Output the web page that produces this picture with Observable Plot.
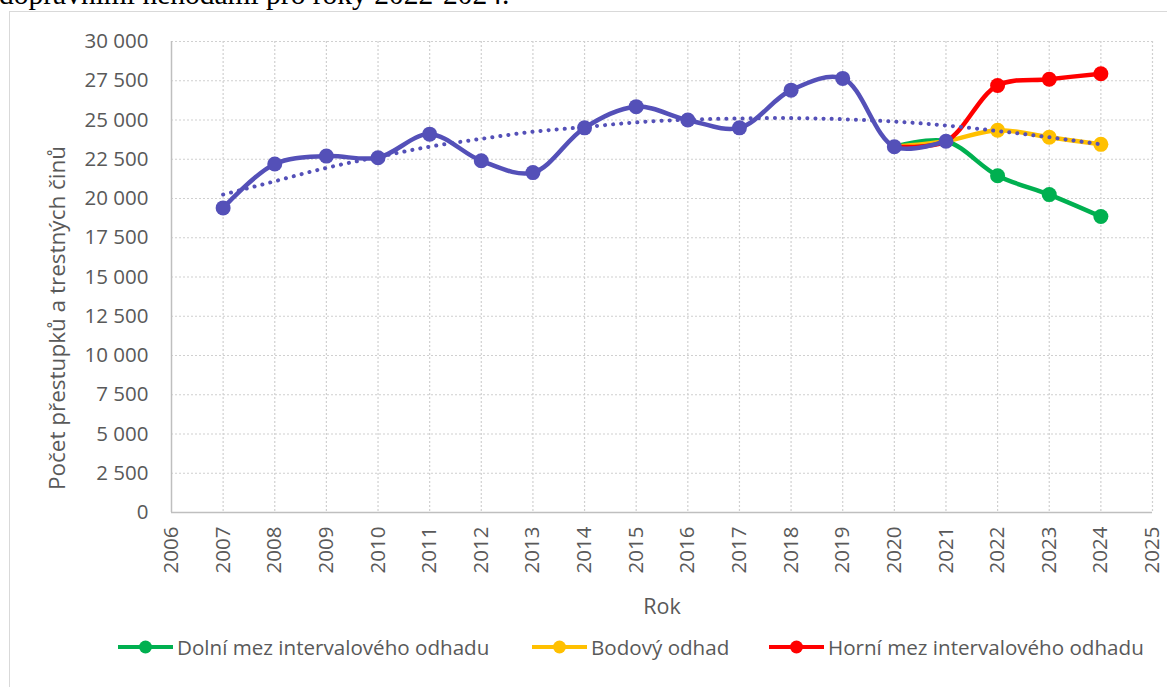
<!DOCTYPE html>
<html><head><meta charset="utf-8">
<script src="https://cdn.jsdelivr.net/npm/d3@7"></script>
<script src="https://cdn.jsdelivr.net/npm/@observablehq/plot@0.6"></script>
<style>
body{margin:0;background:#fff;width:1167px;height:687px;overflow:hidden;position:relative;font-family:"Open Sans",sans-serif}
#caption{position:absolute;left:-1px;top:-20px;font-family:"Liberation Serif",serif;font-size:29.5px;line-height:29px;color:#000;white-space:nowrap}
#frame{position:absolute;left:9px;top:11px;width:1180px;height:700px;border:1px solid #d9d9d9;box-sizing:border-box}
#chart{position:absolute;left:0;top:0}
#legend{position:absolute;top:633px;left:0;width:1167px;height:28px;font-size:20.6px;color:#595959}
.li{position:absolute;top:0;display:flex;align-items:center;height:28px;white-space:nowrap}
.li svg{margin-right:4px}
</style>
</head><body>
<div id="caption">dopravními nehodami pro roky 2022-2024.</div>
<div id="frame"></div>
<div id="chart"></div>
<div id="legend"></div>
<script>
// ---- data ----
const years = [2007,2008,2009,2010,2011,2012,2013,2014,2015,2016,2017,2018,2019,2020,2021];
const actual = [19400,22200,22700,22600,24100,22400,21650,24500,25850,25000,24500,26900,27650,23300,23650];
const forecastYears = [2020,2021,2022,2023,2024];
const lowerBound = [23300,23650,21450,20250,18850];
const pointEstimate = [23300,23650,24350,23900,23450];
const upperBound = [23300,23650,27200,27600,27950];
const trendYears = [2007,2008,2009,2010,2011,2012,2013,2014,2015,2016,2017,2018,2019,2020,2021,2022,2023,2024];
const trendValues = [20250,21100,21950,22650,23300,23800,24250,24550,24850,25020,25100,25120,25050,24900,24650,24300,23900,23450];
const xTicks = [2006,2007,2008,2009,2010,2011,2012,2013,2014,2015,2016,2017,2018,2019,2020,2021,2022,2023,2024,2025];
const yTicks = [0,2500,5000,7500,10000,12500,15000,17500,20000,22500,25000,27500,30000];
const seriesNames = ["Dolní mez intervalového odhadu","Bodový odhad","Horní mez intervalového odhadu"];
const seriesColors = ["#00b050","#ffc000","#ff0000"];
const actualColor = "#5450b8";

const toRows = (xs, vs) => xs.map((x,i)=>({x, v:vs[i]}));
const actualRows = toRows(years, actual);
const trendRows = toRows(trendYears, trendValues);
const fc = [lowerBound, pointEstimate, upperBound].map(vs => toRows(forecastYears, vs));

const fmt = d => d3.format(",")(d).replace(/,/g, " ");
const curve = "catmull-rom";

const marks = [
  Plot.gridY(yTicks.filter(d=>d>0), {stroke:"#d0d0d0", strokeOpacity:1, strokeDasharray:"2,2", strokeWidth:1.2}),
  Plot.gridX(xTicks.filter(d=>d>2006), {stroke:"#d0d0d0", strokeOpacity:1, strokeDasharray:"2,2", strokeWidth:1.2}),
  Plot.ruleY([0], {stroke:"#bfbfbf", strokeWidth:1.5}),
  Plot.ruleX([2006], {stroke:"#bfbfbf", strokeWidth:1.5}),
  Plot.axisY({ticks:yTicks, tickFormat:fmt, tickSize:0, tickPadding:23, fontSize:20.5, fill:"#595959", label:null}),
  Plot.axisX({ticks:xTicks, tickFormat:d=>String(d), tickSize:0, tickPadding:14, tickRotate:-90, fontSize:20.5, fill:"#595959", label:null}),
];
// forecast series lines (drawn under actual line)
fc.forEach((rows,i)=>{
  marks.push(Plot.line(rows, {x:"x", y:"v", stroke:seriesColors[i], strokeWidth:4.5, curve}));
});
fc.forEach((rows,i)=>{
  marks.push(Plot.dot(rows.filter(r=>r.x>2021), {x:"x", y:"v", fill:seriesColors[i], r:7.5}));
});
marks.push(Plot.line(actualRows, {x:"x", y:"v", stroke:actualColor, strokeWidth:4.5, curve}));
marks.push(Plot.dot(actualRows, {x:"x", y:"v", fill:actualColor, r:7.5}));
marks.push(Plot.line(trendRows, {x:"x", y:"v", stroke:actualColor, strokeWidth:4, strokeDasharray:"0.1,8", strokeLinecap:"round", curve:"natural"}));

const chart = Plot.plot({
  width:1167, height:630,
  marginLeft:171, marginRight:15, marginTop:41, marginBottom:118,
  style:{fontFamily:"'Open Sans',sans-serif", fontSize:"20px", color:"#595959", background:"transparent", overflow:"visible"},
  x:{domain:[2006,2025]},
  y:{domain:[0,30000]},
  marks:[
    ...marks,
    Plot.text(["Rok"], {frameAnchor:"bottom", lineAnchor:"middle", dy:95, fontSize:21.5, fill:"#595959"}),
    Plot.text(["Počet přestupků a trestných činů"], {frameAnchor:"left", textAnchor:"middle", lineAnchor:"middle", dx:-114, dy:41, rotate:-90, fontSize:22.5, fill:"#595959"})
  ]
});
document.getElementById("chart").appendChild(chart);

// legend
const legendX = [118, 532, 769];
const lg = document.getElementById("legend");
seriesNames.forEach((name,i)=>{
  const d = document.createElement("div");
  d.className = "li";
  d.style.left = legendX[i] + "px";
  d.innerHTML = `<svg width="55" height="20"><line x1="0" x2="55" y1="10" y2="10" stroke="${seriesColors[i]}" stroke-width="4"/><circle cx="27.5" cy="10" r="6.5" fill="${seriesColors[i]}"/></svg><span>${name}</span>`;
  lg.appendChild(d);
});
</script>
</body></html>
